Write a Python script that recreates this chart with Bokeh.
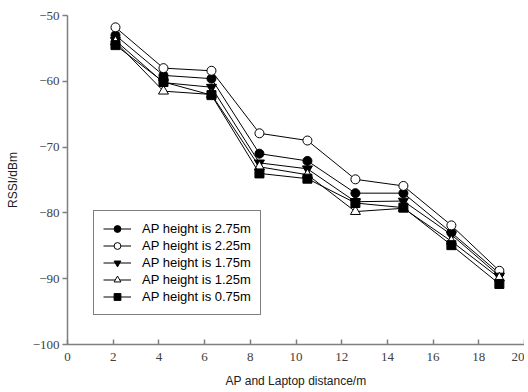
from bokeh.plotting import figure
from bokeh.models import Legend, LegendItem, FixedTicker, Range1d
from bokeh.embed import file_html
from bokeh.resources import INLINE

distance = [2.1, 4.2, 6.3, 8.4, 10.5, 12.6, 14.7, 16.8, 18.9]
rssi_275 = [-53.0, -59.1, -59.6, -71.0, -72.1, -77.0, -77.0, -83.0, -89.2]
rssi_225 = [-51.8, -58.0, -58.4, -67.9, -69.0, -74.9, -75.9, -81.9, -88.8]
rssi_175 = [-53.8, -60.2, -60.9, -72.4, -73.3, -78.3, -78.2, -83.3, -89.6]
rssi_125 = [-54.0, -61.5, -62.0, -73.0, -74.2, -79.8, -79.3, -84.3, -89.9]
rssi_075 = [-54.5, -60.1, -62.1, -74.0, -74.8, -78.5, -79.2, -84.9, -90.8]

labels = ["AP height is 2.75m", "AP height is 2.25m", "AP height is 1.75m",
          "AP height is 1.25m", "AP height is 0.75m"]
x_ticks = [0, 2, 4, 6, 8, 10, 12, 14, 16, 18, 20]
y_ticks = [-100, -90, -80, -70, -60, -50]

p = figure(width=524, height=392, output_backend="svg", toolbar_location=None,
           x_range=Range1d(0, 20), y_range=Range1d(-100, -50),
           min_border_left=67, min_border_right=0, min_border_top=15, min_border_bottom=48)
p.outline_line_color = None
p.grid.visible = False
p.background_fill_color = "white"

series = [
    (rssi_275, "circle", "black", 9),
    (rssi_225, "circle", "white", 9),
    (rssi_175, "inverted_triangle", "black", 10),
    (rssi_125, "triangle", "white", 10),
    (rssi_075, "square", "black", 9),
]
items = []
for (ys, marker, fill, size), lab in zip(series, labels):
    l = p.line(distance, ys, line_color="black", line_width=1)
    s = p.scatter(distance, ys, marker=marker, size=size, fill_color=fill,
                  line_color="black", line_width=1)
    items.append(LegendItem(label=lab, renderers=[l, s]))

legend = Legend(items=items, location=(26, 29), padding=9, spacing=0,
                glyph_width=28, glyph_height=17, label_height=17,
                label_standoff=11, label_text_font="Liberation Sans",
                label_text_font_size="13px", label_text_color="black",
                border_line_color="black", border_line_width=1,
                background_fill_color="white", margin=0)
p.add_layout(legend)

axis_color = "#7f7f7f"
p.axis.axis_line_color = axis_color
p.axis.axis_line_width = 1.5
p.axis.major_tick_line_color = axis_color
p.axis.major_tick_line_width = 1.5
p.axis.minor_tick_line_color = None
p.axis.major_label_text_font = "Liberation Serif"
p.axis.major_label_text_font_size = "13px"
p.axis.major_label_text_color = "#404040"
p.axis.axis_label_text_font = "Liberation Sans"
p.axis.axis_label_text_font_size = "12px"
p.axis.axis_label_text_font_style = "normal"
p.axis.axis_label_text_color = "#202020"

p.xaxis.ticker = FixedTicker(ticks=x_ticks)
p.yaxis.ticker = FixedTicker(ticks=y_ticks)
p.xaxis.major_tick_in = 5
p.xaxis.major_tick_out = 0
p.yaxis.major_tick_in = 0
p.yaxis.major_tick_out = 5
p.xaxis.major_label_standoff = 8
p.yaxis.major_label_standoff = 3
p.xaxis.axis_label = "AP and Laptop distance/m"
p.yaxis.axis_label = "RSSI/dBm"
p.xaxis.axis_label_standoff = 10
p.yaxis.axis_label_standoff = 10

open("out.html", "w").write(file_html(p, INLINE))
